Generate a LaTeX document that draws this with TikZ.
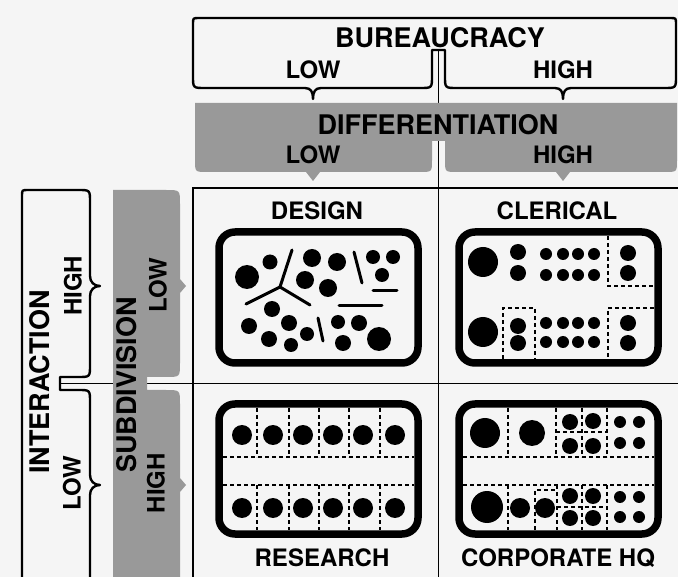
\documentclass[tikz,border=0pt]{standalone}
\usepackage{fontspec}
\setmainfont{TeX Gyre Heros}
\definecolor{paper}{gray}{0.96}
\definecolor{band}{gray}{0.6}
\tikzset{
  title/.style={font=\fontsize{27}{27}\selectfont\bfseries, inner sep=0pt},
  tag/.style={font=\fontsize{24}{24}\selectfont\bfseries, inner sep=0pt},
  brace/.style={line width=2.4pt, line join=round},
  axis/.style={line width=1.4pt},
  office/.style={line width=7.5pt, rounded corners=16pt},
  screen/.style={line width=1.3pt, dash pattern=on 4pt off 3pt},
  desk/.style={line width=3pt, line cap=round}
}
\begin{document}
\begin{tikzpicture}[x=1pt,y=-1pt]
\useasboundingbox (0,0) rectangle (678,577);
\clip (0,0) rectangle (678,577);
\fill[paper] (0,0) rectangle (678,577);

% matrix lines
\draw[axis] (193,577) -- (193,188) -- (678,188);
\draw[axis] (438.5,50) -- (438.5,577);
\draw[axis] (60,383.5) -- (678,383.5);

% bureaucracy
\draw[brace] (676,76) -- (676,24) .. controls (676,18) .. (670,18) -- (199,18)
  .. controls (193,18) .. (193,24) -- (193,76) .. controls (193,88) .. (205,88)
  -- (305,88) .. controls (311,88) and (313,92) .. (313,99)
  .. controls (313,92) and (315,88) .. (321,88)
  -- (420,88) .. controls (432,88) .. (432,76) -- (432,50) -- (445,50)
  -- (445,76) .. controls (445,88) .. (457,88)
  -- (555,88) .. controls (561,88) and (563,92) .. (563,99)
  .. controls (563,92) and (565,88) .. (571,88)
  -- (664,88) .. controls (676,88) .. (676,76) -- cycle;
\node[title] (bur) at (440,38) {BUREAUCRACY};
\node[tag] (burlow) at (313,70) {LOW};
\node[tag] (burhigh) at (563,70) {HIGH};

% differentiation
\fill[band] (195,103) -- (677,103) -- (677,160) .. controls (677,172) .. (665,172)
  -- (570,172) -- (563,181) -- (556,172) -- (457,172) .. controls (445,172) .. (445,160)
  -- (445,141) -- (432,141) -- (432,160) .. controls (432,172) .. (420,172)
  -- (320,172) -- (313,181) -- (306,172) -- (207,172) .. controls (195,172) .. (195,160) -- cycle;
\node[title] (dif) at (438,125) {DIFFERENTIATION};
\node[tag] (diflow) at (313,155) {LOW};
\node[tag] (difhigh) at (563,155) {HIGH};

% interaction
\draw[brace] (22,590) -- (22,196) .. controls (22,190) .. (28,190) -- (78,190)
  .. controls (90,190) .. (90,202) -- (90,276) .. controls (90,282) and (94,286) .. (100,286)
  .. controls (94,286) and (90,290) .. (90,296) -- (90,365) .. controls (90,377) .. (78,377)
  -- (60,377) -- (60,390) -- (78,390) .. controls (90,390) .. (90,402)
  -- (90,475) .. controls (90,481) and (94,485) .. (100,485)
  .. controls (94,485) and (90,489) .. (90,495) -- (90,590);
\node[title,rotate=90] (int) at (40,382) {INTERACTION};
\node[tag,rotate=90] (inthigh) at (73,286) {HIGH};
\node[tag,rotate=90] (intlow) at (72,483) {LOW};

% subdivision
\fill[band] (113,590) -- (113,190) -- (166,190) .. controls (180,190) .. (180,204)
  -- (180,279) -- (186,286) -- (180,293) -- (180,363) .. controls (180,377) .. (166,377)
  -- (147,377) -- (147,390) -- (166,390) .. controls (180,390) .. (180,404)
  -- (180,478) -- (186,485) -- (180,492) -- (180,590) -- cycle;
\node[title,rotate=90] (sub) at (127,385) {SUBDIVISION};
\node[tag,rotate=90] (sublow) at (158,285) {LOW};
\node[tag,rotate=90] (subhigh) at (156,483) {HIGH};

% design
\node[tag] (design) at (317,211) {DESIGN};
\draw[office] (219,232) rectangle (418,363);
\foreach \x/\y/\r in {247/277/12, 270/262/7.5, 312/258/9, 337/262/9, 373/257/7,
  393/257/7, 382/275/7, 305/280/9, 328/288/9, 272/309/8, 249/326/8, 289/323/8,
  269/339/8, 291/345/7, 307/334/7, 338/322/7, 359/323/8, 343/343/8, 379/339/12}
  \fill (\x,\y) circle (\r pt);
\draw[desk] (292,250) -- (280,287) -- (246,304);
\draw[desk] (280,287) -- (310,305);
\draw[desk] (354,252) -- (362,283);
\draw[desk] (373,291) -- (397,291);
\draw[desk] (339,306) -- (382,306);
\draw[desk] (318,318) -- (323,341);

% clerical
\node[tag] (clerical) at (557,211) {CLERICAL};
\draw[office] (459,232) rectangle (658,363);
\foreach \x/\y/\r in {483/262/15, 518/252/8, 518/273/8, 628/253/8, 628/273/8,
  483/332/15, 518/326/8, 518/343/8, 628/323/8, 628/343/8}
  \fill (\x,\y) circle (\r pt);
\foreach \x in {546,563,578,594}
  \foreach \y in {254,275,323,342}
    \fill (\x,\y) circle (6pt);
\draw[screen] (608,236) -- (608,286) -- (654,286);
\draw[screen] (654,308) -- (608,308) -- (608,359);
\draw[screen] (503,359) -- (503,308) -- (535,308) -- (535,359);

% research
\node[tag] (research) at (322,558) {RESEARCH};
\draw[office] (219,404) rectangle (418,534);
\foreach \x in {242,273,303,333,363,395}
  \foreach \y in {435,508}
    \fill (\x,\y) circle (10pt);
\foreach \x in {257,289,319,349,380}{
  \draw[screen] (\x,408) -- (\x,457);
  \draw[screen] (\x,485) -- (\x,530);
}
\draw[screen] (223,457) -- (414,457);
\draw[screen] (223,485) -- (414,485);

% corporate hq
\node[tag] (hq) at (558,558) {CORPORATE HQ};
\draw[office] (459,404) rectangle (658,534);
\foreach \x/\y/\r in {485/433/15, 532/433/13, 570/422/8, 593/421/8, 570/446/8,
  593/446/8, 620/422/6, 639/422/6, 620/443/6, 639/443/6,
  487/507/16, 520/508/10, 545/508/10, 570/496/8, 593/496/8, 570/518/8, 593/518/8,
  620/497/6, 639/497/6, 620/517/6, 639/517/6}
  \fill (\x,\y) circle (\r pt);
\foreach \x in {508,556,582,607}
  \draw[screen] (\x,408) -- (\x,457);
\draw[screen] (556,432) -- (607,432);
\foreach \x in {508,557,582,607}
  \draw[screen] (\x,485) -- (\x,530);
\draw[screen] (535,530) -- (535,490) -- (557,490);
\draw[screen] (557,507) -- (607,507);
\draw[screen] (463,457) -- (654,457);
\draw[screen] (463,485) -- (654,485);
\end{tikzpicture}
\end{document}
